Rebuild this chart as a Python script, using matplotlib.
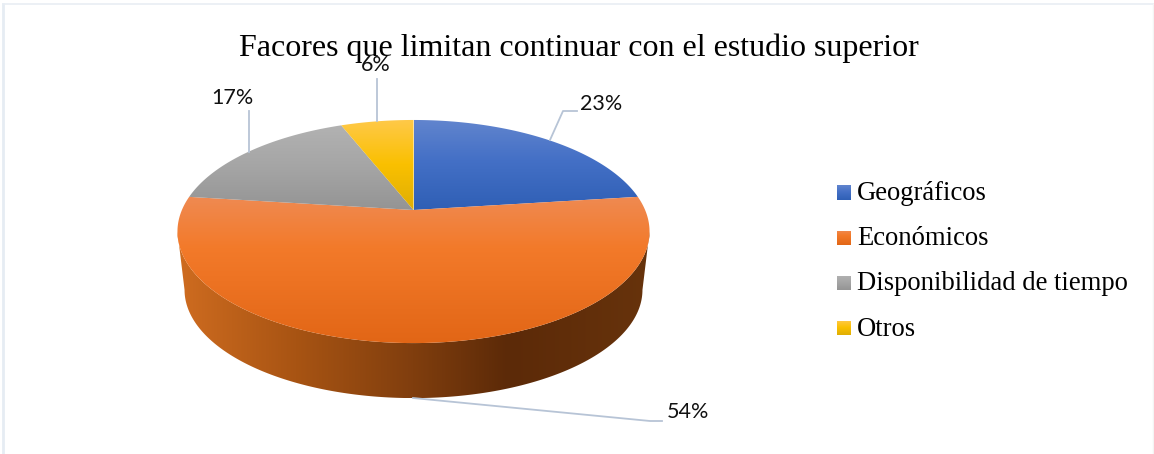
# -*- coding: utf-8 -*-
import numpy as np
import matplotlib
matplotlib.use("Agg")
import matplotlib.pyplot as plt
from matplotlib.colors import LinearSegmentedColormap
from matplotlib.patches import Polygon

title = "Facores que limitan continuar con el estudio superior"
categories = ["Geográficos", "Económicos", "Disponibilidad de tiempo", "Otros"]
values = [23, 54, 17, 6]
value_labels = ["23%", "54%", "17%", "6%"]

# pie geometry in picture pixels
CX, CY = 413.5, 210.0
RX, RY, K = 231.6, 107.4, 0.193
DEPTH_DY, DEPTH_SCALE = 59.0, 0.97

slice_stops = [
    [(0.0, "#6285CE"), (0.45, "#4470C6"), (1.0, "#2F5FB5")],
    [(0.0, "#EF8A52"), (0.35, "#F37A2A"), (1.0, "#E26616")],
    [(0.0, "#B2B2B2"), (0.5, "#A5A5A5"), (1.0, "#949494")],
    [(0.0, "#FFC94A"), (0.5, "#FAC000"), (1.0, "#DFAE05")],
]
wall_stops = [(0.0, "#CF6C20"), (0.25, "#A85413"), (0.5, "#803E0E"),
              (0.7, "#5C2A08"), (1.0, "#67330C")]
LEADER = "#B7C4D6"


def project(frac, scale=1.0, dy=0.0):
    # frac is clockwise from 12 o'clock, perspective squeezes the far side
    t = np.asarray(frac) * 2 * np.pi
    x, y = np.sin(t), np.cos(t)
    w = 1 + K * y
    return CX + scale * RX * x / w, CY + dy - scale * RY * y / w


def grad_fill(ax, pts, stops, horizontal=False, zorder=2):
    pts = np.asarray(pts)
    patch = Polygon(pts, closed=True, fc="none", ec="none", transform=ax.transData)
    ax.add_patch(patch)
    cmap = LinearSegmentedColormap.from_list("g", stops)
    ramp = np.linspace(0, 1, 256)
    ramp = ramp[None, :] if horizontal else ramp[:, None]
    x0, x1, y0, y1 = pts[:, 0].min(), pts[:, 0].max(), pts[:, 1].min(), pts[:, 1].max()
    im = ax.imshow(ramp, cmap=cmap, vmin=0, vmax=1, aspect="auto", origin="upper",
                   extent=(x0, x1, y1, y0), zorder=zorder, interpolation="bilinear")
    im.set_clip_path(patch)


fig = plt.figure(figsize=(11.54, 4.54), dpi=100)
ax = fig.add_axes([0, 0, 1, 1])

# front wall, between the widest points of the rim
front = np.linspace(0.281, 0.719, 200)
tx, ty = project(front)
bx, by = project(front, DEPTH_SCALE, DEPTH_DY)
wall = np.vstack([np.column_stack([tx, ty]), np.column_stack([bx, by])[::-1]])
grad_fill(ax, wall, wall_stops, horizontal=True, zorder=1)

# top face
start = 0.0
total = float(sum(values))
for val, stops in zip(values, slice_stops):
    end = start + val / total
    fr = np.linspace(start, end, 200)
    ax_x, ax_y = project(fr)
    pts = np.vstack([[CX, CY], np.column_stack([ax_x, ax_y])])
    grad_fill(ax, pts, stops, zorder=2)
    start = end

# leader lines
ax.plot([550, 563, 577], [140, 111, 111], color=LEADER, lw=1.3, zorder=3)
ax.plot([249, 249], [152, 111], color=LEADER, lw=1.3, zorder=3)
ax.plot([377, 377], [121, 79], color=LEADER, lw=1.3, zorder=3)
ax.plot([413, 650, 662], [398, 421, 421], color=LEADER, lw=1.3, zorder=3)

# value labels
label_pos = [(601.5, 104), (687.5, 412), (232, 98), (376, 65)]
for txt, (lx, ly) in zip(value_labels, label_pos):
    ax.text(lx, ly, txt, family="Lato", fontsize=15.5, color="#111111",
            ha="center", va="center", zorder=5)

ax.text(578.5, 56, title, family="Liberation Serif", fontsize=23, color="black",
        ha="center", va="baseline", zorder=4)

# legend
legend_y = [192.5, 238, 283, 328]
legend_base = [200, 245, 290.5, 336]
for name, stops, ly, base in zip(categories, slice_stops, legend_y, legend_base):
    sq = [(837, ly - 7.5), (851, ly - 7.5), (851, ly + 7.5), (837, ly + 7.5)]
    grad_fill(ax, sq, stops, zorder=3)
    ax.text(857, base, name, family="Liberation Serif", fontsize=19.2, color="black",
            ha="left", va="baseline", zorder=4)

# faint frame of the pasted picture
ax.plot([2.5, 2.5], [454, 3.5], color="#E6ECF3", lw=2, zorder=0)
ax.plot([2.5, 1154], [3.5, 3.5], color="#E9EEF4", lw=1.2, zorder=0)
ax.plot([1152.5, 1152.5], [3.5, 454], color="#F4F4F4", lw=1, zorder=0)

ax.set_xlim(0, 1154)
ax.set_ylim(454, 0)
ax.axis("off")
fig.savefig("out.png", dpi=100, facecolor="white")
